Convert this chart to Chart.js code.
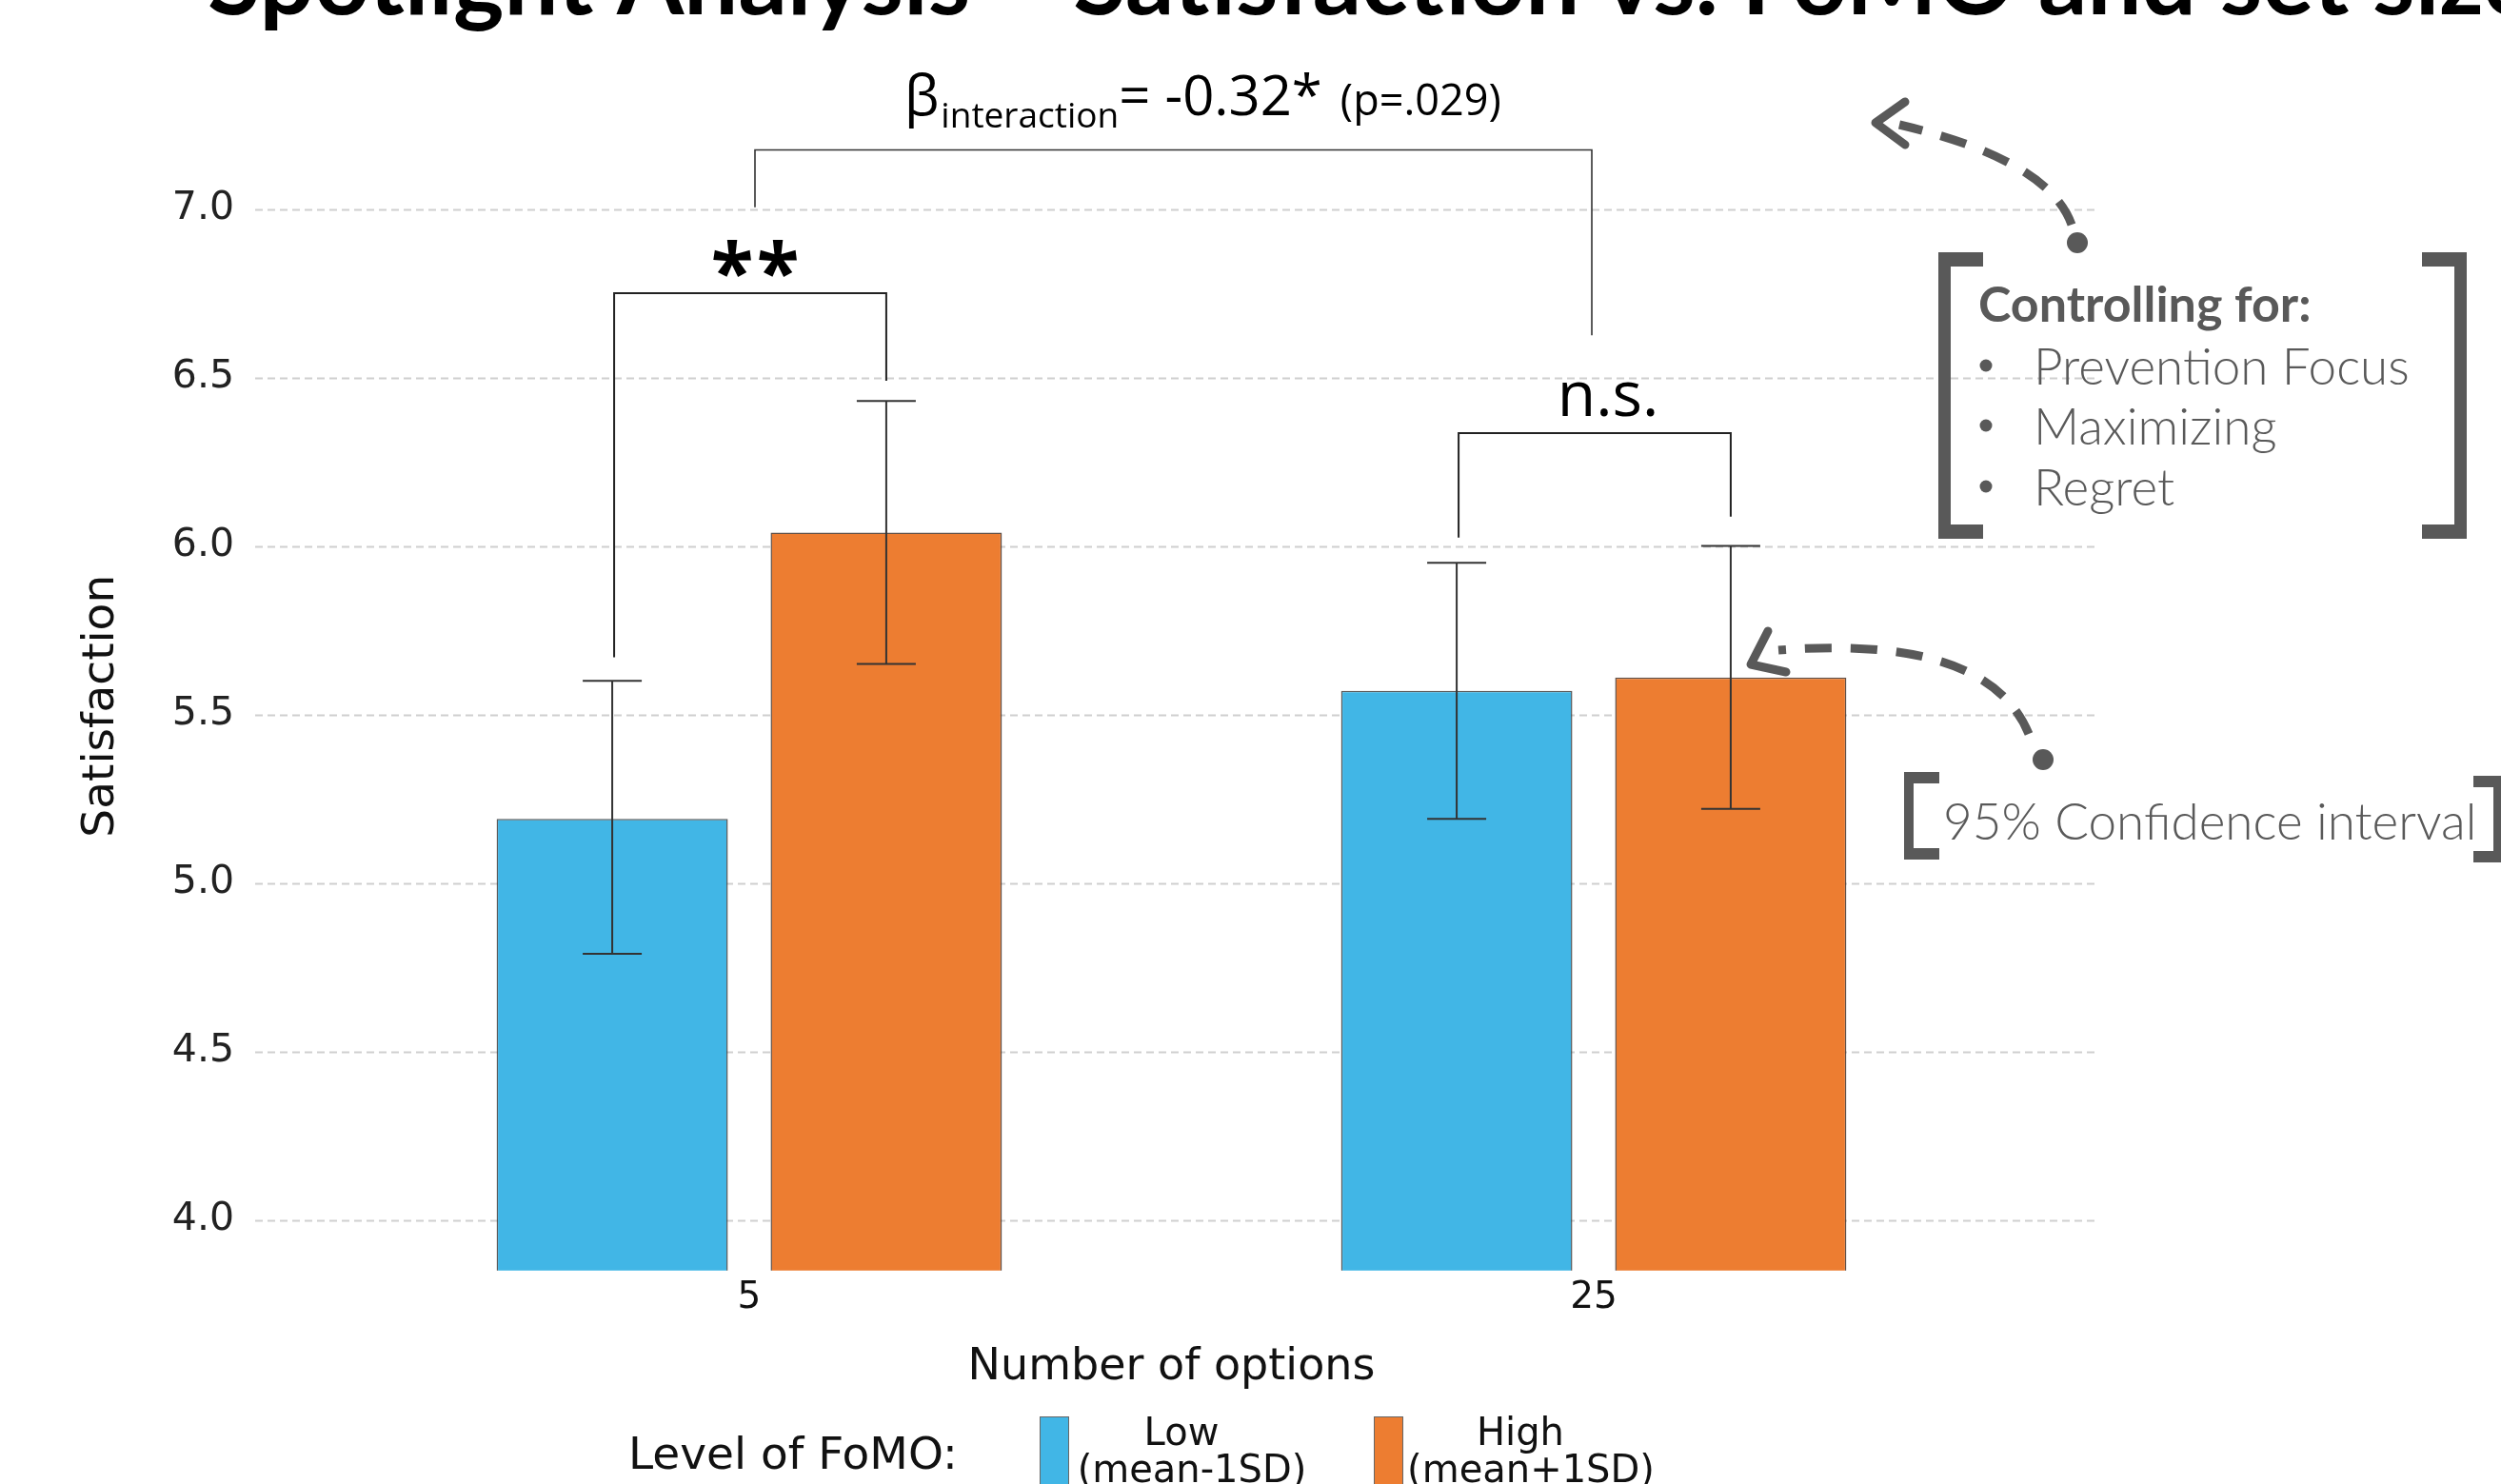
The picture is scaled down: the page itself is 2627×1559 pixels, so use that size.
<!DOCTYPE html>
<html>
<head>
<title>Spotlight Analysis</title>
<script src="https://cdn.jsdelivr.net/npm/chart.js"></script>
<style>
  html, body { margin: 0; padding: 0; background: #fff; overflow: hidden; }
  #wrap { width: 2627px; height: 1559px; }
</style>
</head>
<body>
  <div id="wrap">
    <canvas id="spotChart" width="2627" height="1559"></canvas>
  </div>

  <script>
    // Values
    const categories = ['5', '25'];
    const seriesNames = ['Low', 'High'];
    const seriesNotes = ['(mean-1SD)', '(mean+1SD)'];
    const lowMeans = [5.19, 5.57];
    const lowCiLower = [4.79, 5.19];
    const lowCiUpper = [5.60, 5.95];
    const highMeans = [6.04, 5.61];
    const highCiLower = [5.65, 5.22];
    const highCiUpper = [6.43, 6.00];
    const yTicks = [4.0, 4.5, 5.0, 5.5, 6.0, 6.5, 7.0];

    const BLUE = '#41B6E6';
    const ORANGE = '#ED7D31';
    const NOTE = '#595959';

    const titleText = 'Spotlight Analysis \u2013 Satisfaction vs. FoMO and set size';

    // significance brackets inside each option group, heights in y-axis units
    const sigBrackets = [
      { cat: 0, top: 6.75, leftEnd: 5.67, rightEnd: 6.49, label: '**' },
      { cat: 1, top: 6.335, leftEnd: 6.025, rightEnd: 6.087, label: 'n.s.' }
    ];

    const ciLower = [lowCiLower, highCiLower];
    const ciUpper = [lowCiUpper, highCiUpper];

    function line(ctx, x1, y1, x2, y2) {
      ctx.beginPath();
      ctx.moveTo(x1, y1);
      ctx.lineTo(x2, y2);
      ctx.stroke();
    }

    function squareBracket(ctx, x, top, bottom, arm, w, side) {
      // side = 1 for "[" and -1 for "]"
      ctx.fillStyle = NOTE;
      const vx = side === 1 ? x : x - w;
      ctx.fillRect(vx, top, w, bottom - top);
      const ax = side === 1 ? x : x - arm;
      ctx.fillRect(ax, top, arm, w + 2);
      ctx.fillRect(ax, bottom - w - 2, arm, w + 2);
    }

    function dashedArrow(ctx, p0, c, p2, tip, armA, armB, dot) {
      ctx.save();
      ctx.strokeStyle = NOTE;
      ctx.fillStyle = NOTE;
      ctx.lineWidth = 9;
      ctx.lineCap = 'butt';
      ctx.setLineDash([28, 20]);
      ctx.beginPath();
      ctx.moveTo(p0[0], p0[1]);
      ctx.quadraticCurveTo(c[0], c[1], p2[0], p2[1]);
      ctx.stroke();
      ctx.setLineDash([]);
      ctx.lineCap = 'round';
      ctx.lineJoin = 'round';
      ctx.beginPath();
      ctx.moveTo(armA[0], armA[1]);
      ctx.lineTo(tip[0], tip[1]);
      ctx.lineTo(armB[0], armB[1]);
      ctx.stroke();
      ctx.beginPath();
      ctx.arc(dot[0], dot[1], 11, 0, Math.PI * 2);
      ctx.fill();
      ctx.restore();
    }

    const annotate = {
      id: 'annotate',
      beforeDatasetsDraw(chart) {
        const { ctx } = chart;
        const y = chart.scales.y;
        ctx.save();
        ctx.strokeStyle = '#cfcfcf';
        ctx.lineWidth = 2;
        ctx.setLineDash([8, 5]);
        yTicks.forEach(v => {
          const py = Math.round(y.getPixelForValue(v)) + 0.5;
          line(ctx, 268, py, 2203, py);
        });
        ctx.restore();
      },
      afterDatasetsDraw(chart) {
        const { ctx } = chart;
        const y = chart.scales.y;
        const x = chart.scales.x;
        const barX = (ds, i) => chart.getDatasetMeta(ds).data[i].x;

        // error bars (95% CI)
        ctx.save();
        ctx.strokeStyle = '#333';
        ctx.lineWidth = 2;
        for (let ds = 0; ds < 2; ds++) {
          for (let i = 0; i < categories.length; i++) {
            const cx = barX(ds, i);
            const lo = y.getPixelForValue(ciLower[ds][i]);
            const hi = y.getPixelForValue(ciUpper[ds][i]);
            line(ctx, cx, lo, cx, hi);
            line(ctx, cx - 31, lo, cx + 31, lo);
            line(ctx, cx - 31, hi, cx + 31, hi);
          }
        }
        ctx.restore();

        // significance brackets
        ctx.save();
        ctx.strokeStyle = '#222';
        ctx.lineWidth = 2;
        ctx.fillStyle = '#000';
        sigBrackets.forEach(b => {
          const x1 = barX(0, b.cat) + 2;
          const x2 = barX(1, b.cat);
          const yt = y.getPixelForValue(b.top);
          ctx.beginPath();
          ctx.moveTo(x1, y.getPixelForValue(b.leftEnd));
          ctx.lineTo(x1, yt);
          ctx.lineTo(x2, yt);
          ctx.lineTo(x2, y.getPixelForValue(b.rightEnd));
          ctx.stroke();
        });
        // "**"
        ctx.font = '700 82px "Open Sans"';
        ctx.textAlign = 'center';
        ctx.textBaseline = 'alphabetic';
        const star = ctx.measureText('*');
        const starMid = (star.actualBoundingBoxAscent - star.actualBoundingBoxDescent) / 2;
        const sx = (barX(0, 0) + barX(1, 0)) / 2 + 6;
        ctx.fillText('*', sx - 24, 271 + starMid);
        ctx.fillText('*', sx + 24, 271 + starMid);
        // "n.s."
        ctx.font = '400 66px "Open Sans"';
        ctx.fillText('n.s.', (barX(0, 1) + barX(1, 1)) / 2 + 15, 437);

        // interaction bracket
        ctx.strokeStyle = '#333';
        ctx.lineWidth = 1.6;
        const c0 = x.getPixelForValue(0) + 6;
        const c1 = x.getPixelForValue(1) - 2;
        const yb = y.getPixelForValue(7.175);
        ctx.beginPath();
        ctx.moveTo(c0, y.getPixelForValue(7.005));
        ctx.lineTo(c0, yb);
        ctx.lineTo(c1, yb);
        ctx.lineTo(c1, y.getPixelForValue(6.625));
        ctx.stroke();

        // beta text
        ctx.textAlign = 'left';
        let tx = 950;
        ctx.font = '400 58px "Open Sans"';
        ctx.fillText('\u03B2', tx, 121);
        tx += ctx.measureText('\u03B2').width + 2;
        ctx.font = '400 37px "Open Sans"';
        ctx.fillText('interaction', tx, 134);
        tx += ctx.measureText('interaction').width;
        ctx.font = '400 58px "Open Sans"';
        ctx.fillText('= -0.32*', tx, 121);
        tx += ctx.measureText('= -0.32* ').width;
        ctx.font = '400 45px "Open Sans"';
        ctx.fillText('(p=.029)', tx + 4, 121);
        ctx.restore();

        // title (cut by the top edge)
        ctx.save();
        ctx.fillStyle = '#000';
        ctx.font = '700 100px Lato';
        const tw = ctx.measureText(titleText).width;
        const tSize = 100 * 2445 / tw;
        ctx.font = '700 ' + tSize.toFixed(1) + 'px Lato';
        ctx.textAlign = 'left';
        ctx.fillText(titleText, 218, 15);
        ctx.restore();

        // legend
        ctx.save();
        ctx.fillStyle = '#111';
        ctx.font = '400 47px "DejaVu Sans"';
        ctx.textAlign = 'left';
        ctx.fillText('Level of FoMO:', 660, 1543);
        const colors = [BLUE, ORANGE];
        const swX = [1092, 1443];
        const txtX = [1247, 1603];
        colors.forEach((col, k) => {
          ctx.fillStyle = col;
          ctx.fillRect(swX[k], 1488, 31, 80);
          ctx.strokeStyle = '#666';
          ctx.lineWidth = 1;
          ctx.strokeRect(swX[k] + 0.5, 1488.5, 30, 80);
          ctx.fillStyle = '#111';
          ctx.textAlign = 'center';
          ctx.font = '400 40px "DejaVu Sans"';
          ctx.fillText(seriesNames[k], txtX[k] - 6, 1518);
          ctx.fillText(seriesNotes[k], txtX[k] + 5, 1557);
        });
        ctx.restore();

        // side notes
        ctx.save();
        squareBracket(ctx, 2036, 265, 566, 47, 13, 1);
        squareBracket(ctx, 2591, 265, 566, 47, 13, -1);
        ctx.fillStyle = NOTE;
        ctx.textAlign = 'left';
        ctx.font = '700 52px Lato';
        ctx.fillText('Controlling for:', 2078, 338);
        ctx.font = '300 53px Lato';
        [['Prevention Focus', 404], ['Maximizing', 467], ['Regret', 531]].forEach(([t, by]) => {
          ctx.beginPath();
          ctx.arc(2086, by - 20, 6.5, 0, Math.PI * 2);
          ctx.fill();
          ctx.fillText(t, 2136, by);
        });
        dashedArrow(ctx, [2176, 236], [2152, 168], [1995, 131],
          [1970, 129], [2001, 107], [2001, 152], [2182, 255]);

        squareBracket(ctx, 2000, 811, 903, 37, 10, 1);
        squareBracket(ctx, 2629, 815, 906, 31, 10, -1);
        ctx.fillStyle = NOTE;
        ctx.font = '300 53px Lato';
        ctx.fillText('95% Confidence interval', 2041, 882);
        dashedArrow(ctx, [2131, 771], [2088, 666], [1868, 683],
          [1839, 698], [1857, 663], [1876, 706], [2146, 798]);
        ctx.restore();
      }
    };

    const ctx = document.getElementById('spotChart').getContext('2d');

    const spotChart = new Chart(ctx, {
      type: 'bar',
      data: {
        labels: categories,
        datasets: [
          {
            label: seriesNames[0],
            data: lowMeans,
            backgroundColor: BLUE,
            borderColor: 'rgba(60,60,60,0.85)',
            borderWidth: 1.5
          },
          {
            label: seriesNames[1],
            data: highMeans,
            backgroundColor: ORANGE,
            borderColor: 'rgba(70,50,40,0.85)',
            borderWidth: 1.5
          }
        ]
      },
      options: {
        responsive: false,
        animation: false,
        devicePixelRatio: 1,
        categoryPercentage: 0.649,
        barPercentage: 0.844,
        layout: {
          padding: { top: 148.7, left: 0, right: 509.5, bottom: 0 }
        },
        plugins: {
          legend: { display: false },
          tooltip: { enabled: false },
          title: { display: false }
        },
        scales: {
          x: {
            grid: { display: false, drawTicks: false },
            border: { display: false },
            ticks: {
              padding: 6,
              color: '#111',
              font: { family: 'DejaVu Sans', size: 39 }
            },
            title: {
              display: true,
              text: 'Number of options',
              color: '#111',
              font: { family: 'DejaVu Sans', size: 46 },
              padding: { top: 0, bottom: 94 }
            },
            afterFit(scale) { scale.height = 224.2; }
          },
          y: {
            min: 3.85,
            max: 7.2,
            grid: { display: false, drawTicks: false },
            border: { display: false },
            afterBuildTicks(scale) {
              scale.ticks = yTicks.map(v => ({ value: v }));
            },
            ticks: {
              padding: 97.5,
              color: '#222',
              font: { family: 'DejaVu Sans', size: 41 },
              callback: (value) => Number(value).toFixed(1)
            },
            title: {
              display: true,
              text: 'Satisfaction',
              color: '#111',
              font: { family: 'DejaVu Sans', size: 47 },
              padding: { top: 79, bottom: 0 }
            },
            afterFit(scale) { scale.width = 343.5; }
          }
        }
      },
      plugins: [annotate]
    });
  </script>
</body>
</html>
